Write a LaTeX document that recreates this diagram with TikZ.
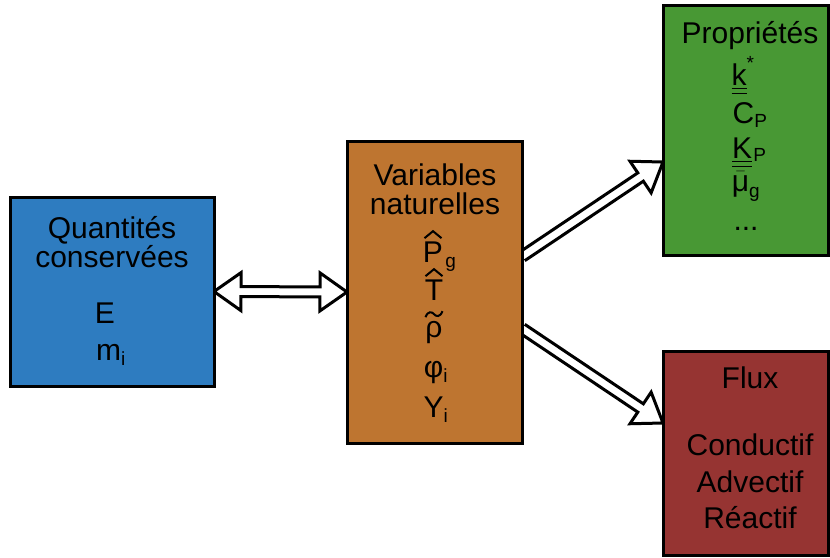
\documentclass[tikz,border=0pt]{standalone}
\usepackage{amsmath}
\usepackage{fontspec}
\setmainfont{Liberation Sans}
\DeclareMathSizes{30}{30}{19}{14}
\usetikzlibrary{calc}
\pgfdeclarelayer{background}
\pgfsetlayers{background,main}
\definecolor{cblue}{HTML}{2E7CC0}
\definecolor{corange}{HTML}{BE7530}
\definecolor{cgreen}{HTML}{489834}
\definecolor{cred}{HTML}{963432}
\tikzset{
  box/.style={draw=black, line width=3pt, inner sep=0pt, outer sep=0pt},
  txt/.style={anchor=base, inner sep=0pt, font=\fontsize{30}{30}\selectfont},
  subtxt/.style={anchor=base west, inner sep=0pt, font=\fontsize{19}{19}\selectfont},
  accent/.style={draw=black, line width=2pt, line join=miter},
  arrowline/.style={draw=black, fill=white, line width=3pt, line join=miter},
}
\newcommand\onearrow[3]{% #1 name, #2 from, #3 to
  \coordinate (#1b) at ($(#3)!27pt!(#2)$);
  \filldraw[arrowline] ($(#2)!5pt!90:(#3)$) -- ($(#1b)!5pt!90:(#3)$) -- ($(#1b)!19pt!90:(#3)$) -- (#3)
    -- ($(#1b)!19pt!-90:(#3)$) -- ($(#1b)!5pt!-90:(#3)$) -- ($(#2)!5pt!-90:(#3)$);
}
\newcommand\twoarrow[3]{% #1 name, #2 from, #3 to
  \coordinate (#1a) at ($(#2)!27pt!(#3)$);
  \coordinate (#1b) at ($(#3)!27pt!(#2)$);
  \filldraw[arrowline] (#2) -- ($(#1a)!19pt!90:(#3)$) -- ($(#1a)!5pt!90:(#3)$) -- ($(#1b)!5pt!90:(#3)$)
    -- ($(#1b)!19pt!90:(#3)$) -- (#3) -- ($(#1b)!19pt!-90:(#3)$) -- ($(#1b)!5pt!-90:(#3)$)
    -- ($(#1a)!5pt!-90:(#3)$) -- ($(#1a)!19pt!-90:(#3)$) -- cycle;
}
\begin{document}
\begin{tikzpicture}[x=1pt,y=-1pt]
\useasboundingbox (0,0) rectangle (830,557);
% boxes
\node[box, fill=cblue, minimum width=204pt, minimum height=189pt] (cons) at (112,291.5) {};
\node[box, fill=corange, minimum width=175pt, minimum height=302pt] (var) at (434.5,292) {};
\node[box, fill=cgreen, minimum width=165pt, minimum height=250pt] (prop) at (745.5,130) {};
\node[box, fill=cred, minimum width=165pt, minimum height=204pt] (flux) at (745.5,453) {};
% arrow end points
\coordinate (h1) at (cons.east);
\coordinate (h2) at (var.west);
\coordinate (u1) at (var.east |- 0,256.5);
\coordinate (u2) at (prop.west |- 0,162);
\coordinate (d1) at (var.east |- 0,328.5);
\coordinate (d2) at (flux.west |- 0,423);
\begin{pgfonlayer}{background}
\twoarrow{ah}{h1}{h2}
\onearrow{au}{u1}{u2}
\onearrow{ad}{d1}{d2}
\end{pgfonlayer}
% texts: conserved quantities
\node[txt] (c1) at (112,238) {Quantités};
\node[txt] (c2) at (112,267) {conservées};
\node[txt] (c3) at (105,323) {E};
\node[txt] (c4) at (111,360) {m$_{\text{i}}$};
% natural variables
\node[txt] (v1) at (435,185) {Variables};
\node[txt] (v2) at (435,214) {naturelles};
\node[txt] (v3) at (433,262) {P};
\node[subtxt] (v3s) at ([xshift=2pt,yshift=-5pt]v3.base east) {g};
\draw[accent] ($(v3.north)+(-8.5,-3)$) -- ($(v3.north)+(0,-10)$) -- ($(v3.north)+(8.5,-3)$);
\node[txt] (v4) at (434,300) {T};
\draw[accent] ($(v4.north)+(-8.5,-3)$) -- ($(v4.north)+(0,-10)$) -- ($(v4.north)+(8.5,-3)$);
\node[txt] (v5) at (434,337) {ρ};
\draw[accent] ($(v5.north)+(-8.5,-3.5)$) .. controls +(2.5,-6.5) and +(-2,-2.5) .. ($(v5.north)+(0,-6.5)$)
   .. controls +(2,2.5) and +(-2.5,6.5) .. ($(v5.north)+(8.5,-9.5)$);
\node[txt] (v6) at (436,377) {φ$_{\text{i}}$};
\node[txt] (v7) at (436,417) {Y$_{\text{i}}$};
% properties
\node[txt] (p1) at (750,43) {Propriétés};
\node[txt] (p2) at (743,85) {$\underline{\underline{\text{k}}}^{\text{*}}$};
\node[txt] (p3) at (750,123) {C$_{\text{P}}$};
\node[txt] (p4) at (742,158) {$\underline{\underline{\text{K}}}$};
\node[subtxt] (p4s) at ([xshift=1pt,yshift=-3pt]p4.base east) {P};
\node[txt] (p5) at (746,191) {$\bar{\text{μ}}_{\text{g}}$};
\node[txt] (p6) at (746,230) {...};
% flux
\node[txt] (f1) at (750,388) {Flux};
\node[txt] (f2) at (750,455) {Conductif};
\node[txt] (f3) at (750,492) {Advectif};
\node[txt] (f4) at (750,528) {Réactif};
\end{tikzpicture}
\end{document}
